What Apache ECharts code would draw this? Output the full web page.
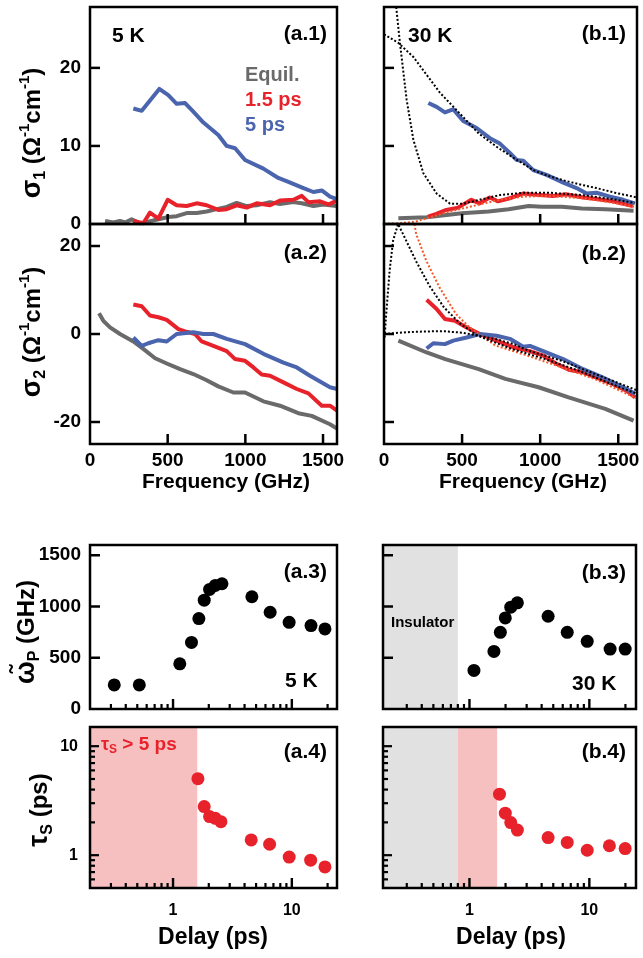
<!DOCTYPE html>
<html><head><meta charset="utf-8">
<script src="https://cdn.jsdelivr.net/npm/echarts@6/dist/echarts.min.js"></script>
<style>html,body{margin:0;padding:0;background:#fff}#c{width:643px;height:958px}</style>
</head><body><div id="c"></div>
<script>
// ---------------- DATA ----------------
// (a.1) sigma1, 5 K
const a1EqF = [97,150,193,225,268,322,375,440,504,558,622,687,751,816,880,944,1009,1073,1159,1223,1309,1363,1438,1502,1588];
const a1EqS = [0.4,0.2,0.4,0.2,0.6,0.1,0.3,0.6,0.9,1.0,1.4,1.4,1.6,1.9,2.2,2.7,2.3,2.4,2.8,2.55,2.8,2.65,2.3,2.5,2.3];
const a1R15F = [279,343,386,440,500,558,622,687,751,826,880,944,1009,1073,1159,1223,1309,1363,1406,1481,1535,1588];
const a1R15S = [0.4,0.1,1.45,0.7,3.1,2.4,2.3,2.65,2.4,1.8,1.9,2.4,2.1,2.65,2.4,3.0,3.1,3.6,2.8,2.9,2.5,3.0];
const a1B5F = [279,333,446,504,558,612,665,730,826,880,934,998,1116,1212,1277,1374,1438,1492,1545,1590];
const a1B5S = [14.8,14.5,17.3,16.5,15.4,15.5,14.4,13.0,11.4,10.0,9.7,8.2,7.1,5.9,5.4,4.6,4.1,4.3,3.5,3.2];
// (a.2) sigma2, 5 K
const a2EqF = [58,86,129,193,279,343,419,494,580,665,751,826,923,998,1116,1223,1341,1427,1545,1590];
const a2EqS = [4.7,3.0,1.5,0,-1.7,-3.4,-5.5,-6.7,-8.0,-9.1,-10.5,-11.9,-13.3,-13.3,-15.3,-16.3,-18.0,-18.6,-20.5,-21.5];
const a2R15F = [279,333,386,440,494,569,622,676,719,794,880,934,998,1052,1105,1159,1245,1331,1406,1492,1545,1590];
const a2R15S = [6.7,6.3,4.2,3.8,3.2,1.1,0.5,0,-1.7,-2.7,-3.9,-5.7,-6.1,-7.6,-9.2,-9.5,-11.0,-12.5,-13.5,-16.3,-16.3,-17.4];
const a2B5F = [279,333,375,440,494,558,665,730,794,880,998,1116,1245,1331,1416,1545,1590];
const a2B5S = [-0.8,-2.7,-2.1,-1.4,-1.7,0,0.4,0,0,-1.1,-2.3,-4.5,-6.5,-7.6,-9.5,-12.1,-12.5];
// (b.1) sigma1, 30 K
const b1EqF = [92,273,499,670,798,926,1011,1139,1267,1417,1598];
const b1EqS = [0.73,0.86,1.37,1.6,1.9,2.3,2.2,2.2,2.0,1.9,1.7];
const b1R15F = [282,335,399,474,559,613,677,730,805,890,997,1082,1167,1274,1360,1466,1594];
const b1R15S = [0.94,1.3,1.8,2.1,3.1,2.65,3.4,2.9,3.3,3.9,3.7,3.6,3.8,3.4,3.2,2.9,2.3];
const b1B5F = [284,337,390,443,507,593,678,742,806,849,892,956,1041,1148,1233,1297,1361,1447,1532,1606];
const b1B5S = [15.5,15.0,14.3,14.7,13.2,12.3,11.0,10.3,9.1,8.2,8.1,6.9,6.3,5.3,4.6,3.9,4.0,3.5,3.1,2.65];
const b1Fit5F = [0,92,188,359,507,606,721,820,956,1033,1148,1247,1361,1480,1598,1620];
const b1Fit5S = [24.3,23.2,21.4,16.8,13.7,11.6,9.9,8.6,6.9,6.3,5.6,5.1,4.6,4.0,3.5,3.4];
const b1Fit15F = [78,102,145,188,252,337,423,508,633,740,890,1061,1274,1487,1605];
const b1Fit15S = [27.8,23.2,15.9,10.8,6.5,3.9,2.6,2.6,3.2,3.7,4.0,4.0,3.7,3.1,2.7];
const b1OrF = [0,100,200,269,420,591,740,890,1061,1274,1487,1605];
const b1OrS = [0,0.1,0.3,0.7,1.6,2.4,3.1,3.5,3.6,3.3,2.65,2.2];
// (b.2) sigma2, 30 K
const b2EqF = [92,273,392,606,777,990,1182,1417,1598];
const b2EqS = [-1.5,-4.2,-5.7,-8.0,-10.2,-12.1,-14.4,-17.0,-19.7];
const b2R15F = [273,337,390,454,529,614,721,827,934,1019,1105,1190,1275,1361,1467,1553,1608];
const b2R15S = [7.8,5.7,3.4,3.0,1.5,0,-1.5,-3.0,-3.9,-4.9,-6.8,-8.2,-8.7,-9.9,-11.4,-12.9,-14.4];
const b2B5F = [273,316,390,444,529,614,721,806,891,934,1019,1147,1275,1403,1531,1608];
const b2B5S = [-3.3,-2.1,-2.3,-1.5,-0.8,0,-0.4,-1.1,-2.9,-2.7,-3.9,-5.7,-8.0,-9.9,-12.1,-13.6];
const b2Fit15F = [4,14,36,58,90,122,206,290,385,490,600,819,1032,1245,1459,1598,1620];
const b2Fit15S = [-0.8,4.5,14.4,21.2,25,22.7,16.5,11,6,2.3,-0.4,-3.4,-5.7,-8.3,-11.4,-13.3,-13.6];
const b2Fit5F = [0,100,200,300,392,500,606,720,830,926,1139,1353,1598,1620];
const b2Fit5S = [0,0.3,0.5,0.6,0.6,0.3,-0.4,-1.2,-2.3,-3.8,-6.1,-9.1,-12.5,-12.8];
const b2OrF = [195,206,270,355,462,548,712,926,1139,1353,1598,1620];
const b2OrS = [25,22.7,16.7,10.6,4.5,1.5,-2.6,-5.0,-7.6,-10.3,-14.3,-14.6];
// (a.3)/(b.3) plasma frequency vs delay
const a3Delay = [0.32,0.52,1.14,1.43,1.65,1.83,2.03,2.27,2.58,4.61,6.57,9.49,14.5,19.0];
const a3Wp = [235,235,441,650,882,1062,1167,1206,1222,1095,944,846,814,781];
const b3Delay = [1.09,1.6,1.81,1.99,2.21,2.51,4.53,6.54,9.6,14.9,19.9];
const b3Wp = [376,562,748,889,993,1036,905,748,660,585,585];
// (a.4)/(b.4) scattering time vs delay
const a4Delay = [1.62,1.83,2.03,2.27,2.53,4.55,6.5,9.5,14.4,19.0];
const a4Tau = [5.03,2.79,2.26,2.18,2.03,1.38,1.26,0.96,0.90,0.78];
const b4Delay = [1.78,1.99,2.21,2.51,4.53,6.54,9.6,14.7,19.9];
const b4Tau = [3.63,2.43,1.99,1.70,1.45,1.31,1.11,1.22,1.15];
// shaded regions (delay, ps)
const aPinkRange = [0.2, 1.6];
const bGrayRange = [0.19, 0.8];
const bPinkRange = [0.8, 1.7];
// ticks
const freqTicks = [500,1000,1500];
const freqLabels = [0,500,1000,1500];
const s1Ticks = [10,20];
const s1Labels = [0,10,20];
const s2Ticks = [-20,0,20];
const wpTicks = [500,1000,1500];
const wpLabels = [0,500,1000,1500];
const logMajorX = [1,10];
const logMinorX = [0.3,0.4,0.5,0.6,0.7,0.8,0.9,2,3,4,5,6,7,8,9,20];
const logMajorY = [1,10];
const logMinorY = [0.6,0.7,0.8,0.9,2,3,4,5,6,7,8,9];

// ---------------- STYLE ----------------
const FONT = '"Liberation Sans", Arial, Helvetica, sans-serif';
const BLUE = '#4a64ae', RED = '#e8222b', GRAY = '#6a6a6a', ORANGE = '#f2592a', PINK = '#f6c0c0', LGRAY = '#e1e1e1';

const chart = echarts.init(document.getElementById('c'));

const gridDefs = [
  {left:90, top:7, width:247, height:217},   // 0 a.1
  {left:90, top:224, width:247, height:220}, // 1 a.2
  {left:384, top:7, width:253, height:217},  // 2 b.1
  {left:384, top:224, width:253, height:220},// 3 b.2
  {left:90, top:545, width:247, height:164}, // 4 a.3
  {left:383, top:545, width:253, height:164},// 5 b.3
  {left:90, top:727, width:247, height:161}, // 6 a.4
  {left:383, top:727, width:253, height:161} // 7 b.4
];
const grid = gridDefs.map(g => Object.assign({show:true, borderColor:'#000', borderWidth:2.5, backgroundColor:'transparent', z:10}, g));
// x ranges per grid (type, min, max) shared by the axes and by the bottom tick placement
const xRanges = [
  ['value', 0, 1590], ['value', 0, 1590], ['value', 0, 1620], ['value', 0, 1620],
  ['log', 0.2, 24], ['log', 0.19, 24.5], ['log', 0.2, 24], ['log', 0.19, 24.5]
];

const plainFmt = v => String(v);
const lbl = (show, vals, size, margin) => Object.assign({show:show, fontSize:size||19, fontWeight:'bold', color:'#000', fontFamily:FONT, margin:margin||8, formatter: plainFmt}, vals ? {customValues: vals.slice()} : {});
const noLine = {show:false, onZero:false};
const noSplit = {show:false};
const noTick = {show:false};

function freqAxis(gi, showLabels) {
  return {type:'value', gridIndex:gi, position:'bottom', min:xRanges[gi][1], max:xRanges[gi][2], axisLine:noLine, splitLine:noSplit,
    axisTick: noTick, axisLabel: lbl(showLabels, freqLabels, 19, 7)};
}
function valAxis(gi, min, max, labels, showLabels) {
  return {type:'value', gridIndex:gi, position:'left', min:min, max:max, axisLine:noLine, splitLine:noSplit,
    axisTick: noTick, axisLabel: lbl(showLabels, labels, 19, 9)};
}
const logFmt = v => (Math.abs(v-1) < 1e-6 ? '1' : (Math.abs(v-10) < 1e-5 ? '10' : ''));
function logAxis(gi, min, max, showLabels, size, margin, pos) {
  return {type:'log', logBase:10, gridIndex:gi, position:pos, min:min, max:max, axisLine:noLine, splitLine:noSplit,
    axisTick:noTick, minorTick:{show:false},
    axisLabel: Object.assign(lbl(showLabels, null, size||16, margin||14), {formatter: logFmt, showMinLabel:true, showMaxLabel:true})};
}

const xAxis = [
  freqAxis(0, false), freqAxis(1, true), freqAxis(2, false), freqAxis(3, true),
  logAxis(4, xRanges[4][1], xRanges[4][2], false, 16, 14, 'bottom'),
  logAxis(5, xRanges[5][1], xRanges[5][2], false, 16, 14, 'bottom'),
  logAxis(6, xRanges[6][1], xRanges[6][2], true, 16, 15, 'bottom'),
  logAxis(7, xRanges[7][1], xRanges[7][2], true, 16, 15, 'bottom')
];
const yAxis = [
  valAxis(0, 0, 27.8, s1Labels, true),
  valAxis(1, -25, 25, s2Ticks, true),
  valAxis(2, 0, 27.8, s1Labels, false),
  valAxis(3, -25, 25, s2Ticks, false),
  valAxis(4, 0, 1600, wpLabels, true),
  valAxis(5, 0, 1600, wpLabels, false),
  logAxis(6, 0.5, 15, true, 16, 12, 'left'),
  logAxis(7, 0.5, 15, false, 16, 12, 'left')
];

const zip = (a, b) => a.map((v, i) => [v, b[i]]);
function solid(idx, f, s, color) {
  return {type:'line', xAxisIndex:idx, yAxisIndex:idx, data:zip(f, s), showSymbol:false, symbol:'none',
    lineStyle:{color:color, width:4, join:'round'}, z:3, silent:true, animation:false};
}
function dotted(idx, f, s, color) {
  return {type:'line', xAxisIndex:idx, yAxisIndex:idx, data:zip(f, s), showSymbol:false, symbol:'none',
    lineStyle:{color:color, width:2, type:[2,2], cap:'butt'}, z:4, silent:true, animation:false};
}
function dots(idx, x, y, color, areas) {
  const s = {type:'scatter', xAxisIndex:idx, yAxisIndex:idx, data:zip(x, y), symbol:'circle', symbolSize:13,
    itemStyle:{color:color, opacity:1}, z:5, silent:true, animation:false};
  if (areas) s.markArea = {silent:true, z:1, data: areas};
  return s;
}
const area = (r, color) => [{xAxis:r[0], itemStyle:{color:color, opacity:1}}, {xAxis:r[1]}];

// left-side inward ticks: rect symbols on the left frame, placed through the axis scales
function yTicks(idx, vals, len, edge, w) {
  w = w || 2.2;
  return {type:'scatter', xAxisIndex:idx, yAxisIndex:idx, silent:true, clip:false, z:11, animation:false,
    data: vals.map(v => [edge, v]),
    symbol:'rect', symbolSize:[len, w], symbolOffset:[len/2, 0],
    itemStyle:{color:'#000', opacity:1}};
}

const series = [
  solid(0, a1EqF, a1EqS, GRAY), solid(0, a1R15F, a1R15S, RED), solid(0, a1B5F, a1B5S, BLUE),
  solid(1, a2EqF, a2EqS, GRAY), solid(1, a2R15F, a2R15S, RED), solid(1, a2B5F, a2B5S, BLUE),
  solid(2, b1EqF, b1EqS, GRAY), solid(2, b1R15F, b1R15S, RED), solid(2, b1B5F, b1B5S, BLUE),
  dotted(2, b1OrF, b1OrS, ORANGE), dotted(2, b1Fit15F, b1Fit15S, '#000'), dotted(2, b1Fit5F, b1Fit5S, '#000'),
  solid(3, b2EqF, b2EqS, GRAY), solid(3, b2R15F, b2R15S, RED), solid(3, b2B5F, b2B5S, BLUE),
  dotted(3, b2OrF, b2OrS, ORANGE), dotted(3, b2Fit15F, b2Fit15S, '#000'), dotted(3, b2Fit5F, b2Fit5S, '#000'),
  dots(4, a3Delay, a3Wp, '#000'),
  dots(5, b3Delay, b3Wp, '#000', [area(bGrayRange, LGRAY)]),
  dots(6, a4Delay, a4Tau, RED, [area(aPinkRange, PINK)]),
  dots(7, b4Delay, b4Tau, RED, [area(bGrayRange, LGRAY), area(bPinkRange, PINK)]),
  yTicks(0, s1Ticks, 10, 0, 2.5), yTicks(2, s1Ticks, 10, 0, 2.5),
  yTicks(1, s2Ticks, 10, 0, 2.5), yTicks(3, s2Ticks, 10, 0, 2.5),
  yTicks(4, wpTicks, 10, 0.2, 2.5), yTicks(5, wpTicks, 10, 0.19, 2.5),
  yTicks(6, logMajorY, 9, 0.2), yTicks(6, logMinorY, 5, 0.2),
  yTicks(7, logMajorY, 9, 0.19), yTicks(7, logMinorY, 5, 0.19)
];

// ---------------- TEXT ----------------
function T(text, x, y, o) {
  o = o || {};
  return {type:'text', x:x, y:y, z:20, silent:true, rotation:o.rot||0,
    style:{text:text, fill:o.color||'#000', fontSize:o.size||20, fontWeight:'bold', fontFamily:FONT,
      align:o.align||'left', verticalAlign:'middle', rich:o.rich}};
}
const R = (size, va, lh) => Object.assign({fontSize:size, fontWeight:'bold', fontFamily:FONT, fill:'#000'}, va ? {verticalAlign:va} : {}, lh ? {lineHeight:lh} : {});
const richY = {m:R(24, null, 32), g:R(27, null, 32), sb:R(16, 'bottom', 17), sp:R(15, 'top', 16)};

const graphic = [
  T('5 K', 112, 36, {size:21}), T('(a.1)', 327, 34, {size:21, align:'right'}),
  T('30 K', 408, 36, {size:21}), T('(b.1)', 626, 34, {size:21, align:'right'}),
  T('Equil.', 245, 75, {color:GRAY, size:20}),
  T('1.5 ps', 245, 100, {color:RED, size:20}),
  T('5 ps', 245, 125, {color:BLUE, size:20}),
  T('(a.2)', 327, 253, {size:21, align:'right'}), T('(b.2)', 626, 254, {size:21, align:'right'}),
  T('Frequency (GHz)', 226, 482, {size:21, align:'center'}), T('Frequency (GHz)', 523, 482, {size:21, align:'center'}),
  T('(a.3)', 327, 572, {size:21, align:'right'}), T('5 K', 285, 681, {size:21}),
  T('(b.3)', 626, 573, {size:21, align:'right'}), T('30 K', 572, 684, {size:21}),
  T('Insulator', 391, 623, {size:15}),
  T('{t|τ}{s|S}{m| > 5 ps}', 101, 745, {color:RED, rich:{t:Object.assign(R(18,null,22),{fill:RED}), s:Object.assign(R(12,'bottom',12),{fill:RED}), m:Object.assign(R(19,null,22),{fill:RED})}}),
  T('(a.4)', 327, 752, {size:21, align:'right'}), T('(b.4)', 626, 752, {size:21, align:'right'}),
  T('Delay (ps)', 213, 938, {size:23, align:'center'}), T('Delay (ps)', 511, 938, {size:23, align:'center'}),
  T('{g|σ}{sb|1}{m| (Ω}{sp|-1}{m|cm}{sp|-1}{m|)}', 33, 133, {rot:Math.PI/2, align:'center', rich:richY}),
  T('{g|σ}{sb|2}{m| (Ω}{sp|-1}{m|cm}{sp|-1}{m|)}', 33, 332, {rot:Math.PI/2, align:'center', rich:richY}),
  T('{g|ω̃}{sb|P}{m| (GHz)}', 27, 632, {rot:Math.PI/2, align:'center', rich:richY}),
  T('{g|τ}{sb|S}{m| (ps)}', 40, 810, {rot:Math.PI/2, align:'center', rich:richY})
];

// bottom inward ticks: placed from each grid's box and the same x range its axis uses
const bottomTickSpecs = [
  [0, freqTicks, 10, 2.5], [1, freqTicks, 10, 2.5], [2, freqTicks, 10, 2.5], [3, freqTicks, 10, 2.5],
  [4, logMajorX, 10, 2.4], [4, logMinorX, 5, 2.2], [5, logMajorX, 10, 2.4], [5, logMinorX, 5, 2.2],
  [6, logMajorX, 10, 2.4], [6, logMinorX, 5, 2.2], [7, logMajorX, 10, 2.4], [7, logMinorX, 5, 2.2]
];
function fracOf(gi, v) {
  const r = xRanges[gi];
  if (r[0] === 'log') return (Math.log10(v) - Math.log10(r[1])) / (Math.log10(r[2]) - Math.log10(r[1]));
  return (v - r[1]) / (r[2] - r[1]);
}
bottomTickSpecs.forEach(function (sp) {
  const gi = sp[0], g = gridDefs[gi], len = sp[2], w = sp[3];
  const yb = g.top + g.height;
  sp[1].forEach(function (v) {
    const x = g.left + fracOf(gi, v) * g.width;
    graphic.push({type:'line', z:100, silent:true, shape:{x1:x, y1:yb, x2:x, y2:yb - len},
      style:{stroke:'#000', lineWidth:w}});
  });
});

chart.setOption({animation:false, backgroundColor:'#fff', grid:grid, xAxis:xAxis, yAxis:yAxis, series:series, graphic:graphic});
</script></body></html>
